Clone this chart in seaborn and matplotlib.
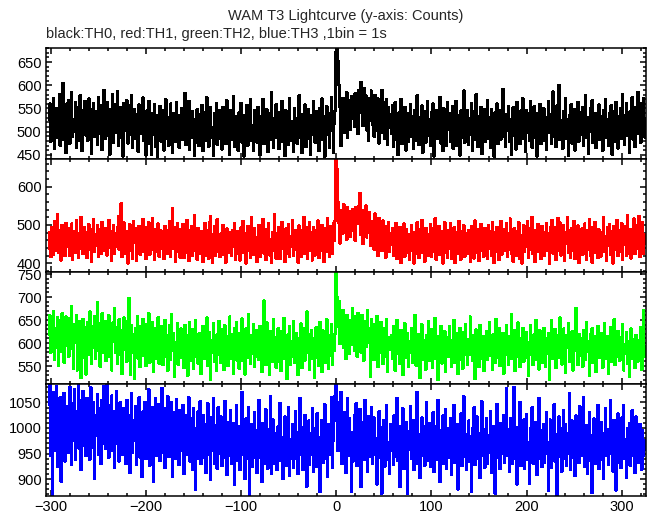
import numpy as np
import matplotlib
matplotlib.use("Agg")
import matplotlib.pyplot as plt
from matplotlib.ticker import MultipleLocator
import seaborn as sns

# ---------------- data (counts per 1 s bin) ----------------
T_START = -302  # time of the first bin (s)

th0_counts = [
    525, 560, 478, 541, 497, 572, 463, 530, 551, 488, 519, 580, 470, 545, 506, 605, 482, 538, 455, 560,
    512, 568, 474, 539, 585, 490, 527, 501, 563, 466, 534, 552, 480, 578, 509, 458, 546, 515, 566, 492,
    538, 481, 571, 503, 549, 452, 526, 562, 489, 544, 511, 472, 575, 520, 495, 556, 461, 537, 590, 484,
    507, 564, 491, 533, 450, 548, 513, 581, 476, 535, 559, 498, 586, 469, 524, 553, 486, 518, 447, 561,
    502, 540, 567, 475, 529, 556, 494, 579, 465, 521, 548, 484, 537, 508, 457, 558, 496, 547, 515, 573,
    481, 528, 449, 545, 499, 566, 473, 519, 451, 540, 493, 558, 467, 524, 446, 536, 490, 555, 479, 512,
    547, 460, 505, 569, 485, 531, 470, 518, 560, 494, 454, 539, 508, 478, 563, 500, 536, 466, 523, 492,
    551, 483, 514, 583, 471, 528, 498, 566, 462, 517, 486, 543, 495, 448, 527, 477, 548, 503, 469, 537,
    491, 557, 458, 515, 541, 480, 574, 499, 467, 524, 552, 487, 510, 449, 540, 494, 561, 472, 518, 546,
    485, 513, 462, 553, 500, 534, 474, 567, 493, 522, 451, 546, 483, 507, 577, 468, 533, 489, 516, 459,
    541, 497, 562, 477, 519, 447, 536, 503, 557, 470, 526, 492, 569, 481, 514, 459, 545, 498, 530, 476,
    553, 495, 450, 533, 508, 570, 473, 520, 488, 548, 456, 506, 539, 482, 584, 497, 465, 528, 502, 559,
    486, 517, 463, 542, 499, 565, 478, 525, 448, 546, 491, 532, 471, 572, 507, 480, 523, 457, 551, 496,
    529, 474, 510, 578, 487, 538, 455, 519, 501, 558, 467, 531, 485, 549, 508, 451, 535, 493, 566, 511,
    476, 543, 498, 527, 458, 550, 509, 571, 482, 532, 446, 520, 555, 494, 539, 465, 526, 574, 503, 455,
    518, 545, 672, 680, 652, 600, 553, 470, 539, 572, 497, 555, 520, 585, 486, 549, 568, 505, 576, 528,
    558, 511, 583, 526, 571, 495, 590, 541, 607, 560, 512, 594, 535, 578, 503, 562, 481, 572, 524, 588,
    516, 565, 490, 579, 534, 502, 571, 475, 556, 520, 589, 497, 563, 484, 538, 570, 471, 552, 509, 537,
    495, 557, 468, 524, 563, 482, 519, 450, 541, 501, 570, 473, 529, 490, 553, 460, 517, 540, 479, 526,
    559, 489, 532, 464, 508, 547, 481, 578, 512, 471, 530, 499, 556, 455, 521, 543, 477, 510, 566, 492,
    527, 469, 541, 497, 560, 447, 516, 546, 484, 533, 503, 574, 475, 522, 458, 550, 494, 531, 470, 563,
    505, 539, 478, 514, 555, 463, 527, 496, 566, 470, 536, 509, 449, 545, 487, 521, 588, 476, 518, 500,
    546, 472, 529, 494, 562, 459, 515, 543, 482, 580, 503, 468, 534, 507, 553, 452, 524, 489, 548, 478,
    517, 567, 485, 530, 466, 548, 498, 523, 446, 541, 495, 560, 473, 514, 547, 483, 528, 592, 490, 519,
    467, 537, 502, 555, 479, 526, 450, 513, 552, 491, 533, 462, 563, 500, 521, 474, 545, 506, 571, 484,
    524, 456, 547, 498, 539, 480, 566, 505, 465, 528, 554, 488, 517, 447, 540, 501, 559, 473, 520, 494,
    550, 481, 531, 461, 508, 565, 497, 538, 474, 519, 586, 490, 532, 468, 556, 510, 600, 482, 525, 503,
    463, 544, 509, 571, 485, 526, 448, 536, 496, 559, 475, 518, 549, 460, 530, 502, 564, 479, 521, 542,
    493, 553, 470, 516, 578, 487, 531, 453, 522, 551, 499, 567, 476, 508, 540, 466, 525, 497, 558, 482,
    534, 504, 459, 547, 515, 570, 486, 527, 469, 539, 495, 556, 451, 511, 543, 478, 563, 519, 464, 532,
    500, 551, 484, 580, 513, 472, 536, 561, 492, 527, 455, 544, 505, 574, 483, 531, 467, 553, 516, 585,
    496, 537, 476, 562, 510, 572, 488, 528,
]

th1_counts = [
    438, 481, 416, 495, 452, 423, 509, 464, 433, 527, 428, 487, 456, 408, 499, 445, 474, 420, 505, 461,
    442, 490, 419, 468, 503, 410, 461, 484, 427, 511, 450, 414, 479, 437, 520, 458, 425, 493, 446, 482,
    415, 470, 501, 436, 488, 404, 457, 515, 431, 476, 447, 498, 418, 489, 460, 424, 508, 451, 480, 433,
    492, 421, 466, 513, 440, 484, 407, 459, 500, 426, 477, 444, 494, 522, 435, 486, 556, 417, 463, 506,
    448, 425, 483, 400, 457, 502, 432, 478, 413, 510, 453, 491, 406, 469, 441, 497, 423, 482, 455, 514,
    430, 473, 411, 494, 451, 507, 422, 480, 436, 518, 459, 409, 488, 429, 467, 503, 417, 456, 485, 439,
    474, 412, 497, 449, 424, 486, 458, 510, 418, 479, 543, 437, 495, 405, 460, 504, 431, 471, 415, 489,
    446, 501, 414, 472, 428, 513, 455, 406, 485, 438, 496, 420, 465, 524, 432, 478, 410, 492, 450, 426,
    483, 443, 403, 468, 504, 421, 461, 487, 412, 507, 522, 475, 401, 439, 496, 419, 470, 515, 430, 457,
    416, 477, 440, 499, 423, 466, 402, 490, 448, 427, 481, 462, 419, 487, 442, 505, 410, 460, 484, 425,
    471, 408, 493, 447, 509, 427, 478, 400, 456, 497, 434, 483, 415, 519, 452, 422, 491, 441, 468, 403,
    459, 500, 418, 476, 436, 514, 426, 467, 409, 488, 447, 504, 421, 463, 401, 482, 433, 528, 450, 413,
    479, 430, 495, 411, 461, 508, 437, 474, 404, 490, 452, 424, 502, 416, 471, 444, 512, 420, 466, 485,
    435, 476, 402, 498, 455, 417, 486, 439, 520, 425, 468, 493, 411, 462, 506, 432, 480, 408, 494, 449,
    421, 487, 443, 511, 414, 472, 434, 500, 457, 403, 490, 429, 478, 518, 446, 418, 496, 452, 424, 505,
    460, 512, 690, 645, 560, 505, 452, 538, 516, 478, 553, 497, 530, 462, 546, 488, 535, 470, 521, 542,
    486, 528, 459, 547, 503, 531, 548, 582, 475, 520, 451, 539, 494, 550, 468, 515, 481, 533, 445, 509,
    470, 506, 436, 529, 461, 498, 420, 517, 452, 495, 433, 511, 448, 483, 414, 497, 455, 507, 430, 479,
    449, 491, 420, 477, 437, 505, 411, 466, 431, 494, 402, 472, 444, 503, 418, 463, 488, 428, 476, 409,
    458, 498, 432, 481, 400, 468, 424, 506, 443, 414, 488, 454, 513, 427, 470, 405, 492, 437, 475, 419,
    463, 501, 416, 450, 490, 429, 517, 410, 472, 435, 497, 422, 459, 484, 400, 456, 507, 428, 470, 415,
    486, 439, 503, 412, 468, 433, 494, 401, 457, 481, 425, 509, 445, 410, 483, 436, 499, 418, 464, 477,
    424, 485, 451, 404, 496, 440, 471, 413, 511, 447, 428, 489, 406, 461, 502, 433, 476, 417, 492, 443,
    470, 411, 500, 438, 484, 421, 508, 452, 401, 480, 430, 495, 446, 409, 469, 510, 423, 458, 488, 432,
    455, 503, 418, 478, 436, 516, 426, 469, 405, 491, 449, 420, 484, 438, 506, 412, 473, 400, 462, 499,
    429, 475, 444, 510, 415, 466, 490, 435, 521, 424, 470, 403, 487, 452, 501, 431, 481, 411, 497, 445,
    482, 419, 460, 505, 434, 477, 400, 493, 447, 513, 425, 468, 494, 410, 456, 518, 432, 506, 421, 474,
    439, 500, 406, 480, 451, 519, 428, 485, 415, 463, 492, 433, 510, 412, 471, 446, 498, 401, 479, 430,
    490, 422, 467, 503, 443, 409, 486, 435, 514, 419, 474, 402, 495, 450, 507, 427, 478, 414, 488, 453,
    417, 482, 440, 520, 429, 471, 408, 493, 447, 502, 423, 484, 455, 400, 497, 436, 476, 512, 420, 464,
    485, 431, 504, 410, 469, 448, 496, 421, 526, 452, 426, 489, 413, 477, 439, 516, 424, 481, 499, 437,
    523, 416, 490, 441, 507, 425, 476, 450,
]

th2_counts = [
    618, 660, 579, 642, 597, 668, 563, 631, 590, 655, 550, 624, 650, 582, 664, 606, 558, 637, 657, 595,
    628, 571, 653, 588, 679, 615, 545, 640, 601, 661, 541, 626, 583, 648, 524, 610, 652, 569, 634, 532,
    604, 645, 574, 668, 612, 556, 637, 591, 657, 566, 627, 688, 584, 643, 549, 618, 664, 578, 609, 647,
    562, 630, 596, 660, 571, 623, 541, 644, 603, 675, 580, 635, 556, 613, 651, 575, 628, 533, 600, 655,
    586, 625, 560, 647, 698, 598, 531, 639, 580, 619, 522, 632, 592, 658, 567, 611, 548, 637, 585, 652,
    572, 612, 550, 641, 589, 664, 558, 620, 576, 646, 537, 606, 633, 565, 597, 656, 555, 615, 578, 636,
    552, 603, 650, 570, 617, 540, 591, 638, 563, 662, 584, 622, 526, 601, 576, 643, 553, 612, 587, 631,
    568, 600, 546, 639, 582, 617, 529, 607, 646, 561, 594, 630, 544, 589, 650, 570, 610, 555, 621, 580,
    533, 601, 636, 565, 613, 586, 655, 551, 597, 624, 520, 578, 606, 642, 559, 594, 539, 618, 575, 648,
    583, 557, 629, 604, 542, 638, 572, 614, 550, 595, 657, 567, 620, 581, 534, 633, 588, 646, 562, 605,
    545, 621, 582, 653, 561, 603, 532, 631, 592, 568, 662, 589, 555, 617, 577, 640, 548, 598, 627, 570,
    609, 563, 636, 580, 538, 614, 692, 587, 552, 644, 573, 601, 531, 626, 585, 559, 651, 576, 613, 547,
    594, 632, 560, 606, 540, 625, 579, 654, 565, 593, 522, 618, 583, 637, 552, 604, 571, 648, 557, 598,
    622, 574, 531, 611, 585, 642, 547, 597, 633, 562, 602, 668, 580, 619, 543, 590, 628, 566, 610, 525,
    586, 634, 568, 613, 550, 646, 594, 538, 627, 577, 606, 557, 652, 591, 545, 617, 573, 640, 553, 600,
    583, 621, 760, 700, 635, 690, 598, 653, 612, 672, 590, 645, 565, 661, 604, 637, 576, 650, 596, 676,
    620, 584, 657, 629, 571, 665, 603, 642, 580, 660, 611, 562, 648, 618, 592, 672, 600, 633, 526, 652,
    602, 640, 563, 624, 585, 659, 548, 616, 579, 646, 593, 555, 632, 598, 571, 651, 538, 612, 586, 597,
    617, 566, 636, 590, 540, 609, 650, 576, 601, 555, 628, 583, 531, 613, 642, 568, 595, 622, 549, 604,
    578, 633, 558, 607, 585, 661, 551, 600, 571, 620, 524, 594, 640, 563, 605, 582, 543, 616, 574, 648,
    561, 597, 629, 547, 609, 580, 654, 566, 593, 520, 614, 577, 636, 556, 602, 572, 625, 538, 592, 613,
    570, 637, 590, 548, 606, 579, 650, 557, 596, 621, 534, 587, 632, 564, 603, 545, 623, 575, 641, 586,
    553, 608, 574, 657, 589, 561, 617, 598, 522, 629, 578, 604, 549, 638, 593, 567, 615, 539, 607, 581,
    626, 563, 597, 645, 572, 609, 543, 619, 587, 558, 652, 594, 569, 633, 551, 603, 579, 622, 533, 599,
    575, 638, 591, 554, 614, 578, 663, 565, 601, 628, 540, 592, 570, 644, 597, 549, 611, 582, 633, 560,
    608, 569, 624, 588, 530, 602, 639, 574, 596, 552, 618, 585, 649, 563, 604, 543, 627, 576, 599, 557,
    633, 586, 548, 611, 576, 622, 520, 597, 650, 566, 605, 580, 630, 546, 594, 616, 568, 655, 590, 554,
    601, 631, 575, 535, 617, 589, 642, 560, 598, 571, 625, 541, 608, 584, 675, 596, 553, 620, 572, 610,
    588, 549, 627, 593, 563, 646, 581, 603, 529, 619, 575, 632, 557, 598, 614, 537, 590, 637, 568, 606,
    579, 621, 546, 600, 642, 565, 592, 615, 534, 586, 634, 559, 604, 577, 651, 552, 598, 570, 626, 589,
    562, 612, 584, 640, 541, 597, 576, 623, 555, 603, 526, 591, 631, 566, 608, 581, 546, 617, 594, 560,
    605, 578, 634, 543, 600, 672, 571, 593,
]

th3_counts = [
    1045, 1085, 945, 1020, 870, 1070, 955, 1010, 1082, 925, 1035, 950, 1060, 895, 1022, 978, 1068, 935, 1042, 992,
    1028, 952, 1080, 1000, 928, 1048, 975, 1076, 938, 1033, 1005, 1085, 960, 1055, 918, 1020, 1072, 965, 1040, 945,
    1058, 982, 1030, 938, 1080, 1012, 962, 1050, 900, 1025, 985, 1066, 948, 1038, 1000, 930, 1055, 970, 1082, 1015,
    960, 1084, 1020, 942, 1045, 990, 1063, 955, 1032, 922, 1010, 1072, 970, 1026, 935, 1050, 980, 1018, 948, 1038,
    998, 930, 1055, 966, 1024, 912, 990, 1068, 952, 1015, 975, 1042, 928, 1020, 985, 1060, 942, 1005, 905, 1032,
    962, 1050, 940, 1008, 982, 1075, 926, 1018, 958, 1040, 895, 992, 1058, 946, 1026, 972, 1047, 936, 1000, 1078,
    952, 1015, 922, 1038, 980, 1062, 943, 1004, 965, 1050, 905, 990, 1030, 940, 1056, 970, 1012, 928, 1035, 955,
    992, 1044, 910, 1005, 948, 1025, 972, 1060, 935, 988, 1018, 918, 1038, 960, 880, 1000, 940, 1032, 962, 1052,
    930, 980, 1025, 942, 1008, 912, 968, 1048, 948, 990, 898, 1020, 955, 1058, 930, 982, 1005, 920, 1040, 950,
    975, 1022, 926, 998, 942, 1052, 962, 908, 1012, 946, 985, 1035, 930, 970, 1010, 890, 956, 1045, 936, 980,
    1004, 918, 972, 1070, 948, 992, 900, 1018, 940, 985, 1040, 870, 955, 1008, 924, 978, 1030, 942, 996, 912,
    968, 1055, 942, 988, 895, 1010, 930, 980, 1036, 952, 920, 998, 946, 1062, 910, 974, 1016, 930, 990, 955,
    918, 1003, 946, 1048, 936, 982, 900, 965, 1022, 926, 996, 950, 1040, 906, 978, 940, 1008, 922, 986, 1032,
    940, 992, 910, 968, 1058, 948, 1002, 918, 980, 1025, 934, 885, 972, 1014, 928, 990, 948, 1038, 915, 965,
    1000, 924, 1028, 944, 982, 875, 956, 1015, 932, 992, 1046, 940, 968, 905, 1008, 948, 985, 1060, 922, 975,
    1062, 1015, 1090, 1035, 955, 1050, 985, 1070, 930, 1008, 965, 1030, 912, 995, 1058, 945, 1018, 970, 875, 992,
    935, 1025, 978, 1048, 926, 1000, 952, 1036, 885, 975, 1012, 938, 1055, 958, 992, 915, 1022, 944, 985, 1040,
    930, 995, 1020, 948, 980, 890, 962, 1032, 942, 1002, 872, 952, 1015, 925, 988, 1045, 938, 972, 910, 1008,
    955, 996, 928, 1025, 944, 985, 1058, 936, 970, 885, 1004, 950, 1038, 920, 978, 1012, 932, 872, 994, 958,
    1042, 940, 976, 1015, 918, 998, 950, 1070, 930, 988, 902, 965, 1020, 945, 1003, 926, 982, 1050, 936, 970,
    1010, 924, 992, 950, 1030, 914, 975, 1004, 938, 1055, 960, 895, 996, 946, 1024, 930, 980, 1036, 920, 966,
    1000, 942, 1018, 908, 986, 955, 1045, 932, 976, 1008, 880, 952, 995, 1028, 926, 972, 1062, 944, 988, 918,
    962, 1014, 935, 984, 875, 950, 1000, 1040, 928, 968, 1022, 940, 990, 902, 978, 1052, 945, 998, 922, 970,
    1018, 930, 986, 952, 1032, 912, 974, 1004, 938, 872, 960, 1046, 942, 994, 920, 1010, 950, 984, 1025, 932,
    975, 1078, 945, 998, 915, 1018, 962, 930, 988, 1080, 940, 970, 890, 1002, 948, 1050, 926, 985, 955, 1016,
    920, 982, 1026, 938, 972, 892, 1000, 952, 1040, 930, 990, 946, 1012, 908, 974, 1058, 940, 996, 924, 968,
    1008, 932, 984, 1030, 950, 878, 972, 1016, 922, 994, 955, 1046, 935, 988, 870, 960, 1022, 944, 1000, 915,
    978, 1034, 940, 1008, 926, 990, 950, 1068, 918, 975, 1014, 942, 982, 906, 1024, 955, 996, 932, 1042, 962,
    945, 988, 1060, 925, 974, 1005, 910, 960, 1030, 936, 986, 873, 952, 1018, 930, 992, 948, 1044, 920, 980,
    1012, 938, 972, 900, 990, 1038, 945, 998, 928, 975, 1055, 950, 982, 915, 1015, 940, 878, 965, 1028, 932,
    988, 922, 1020, 955, 1045, 940, 978, 902, 1000, 950, 1010, 926, 990, 1034, 946, 972, 912, 1022, 950, 985,
    932, 1008, 962, 918, 996, 945, 975, 958,
]

series_names = ["TH0", "TH1", "TH2", "TH3"]
series_colors = ["#000000", "#ff0000", "#00ff00", "#0000ff"]
x_tick_labels = [-300, -200, -100, 0, 100, 200, 300]
title_text = "WAM T3 Lightcurve (y-axis: Counts)"
subtitle_text = "black:TH0, red:TH1, green:TH2, blue:TH3 ,1bin = 1s"

# ---------------- styling ----------------
sns.set_style("white")
plt.rcParams["font.family"] = ["Liberation Sans", "DejaVu Sans"]
plt.rcParams["axes.unicode_minus"] = True

W, H = 652, 515
fig = plt.figure(figsize=(W / 100, H / 100), dpi=100)

left_px, right_px = 45.7, 646.0
panel_px = [(47.7, 159.0), (159.0, 271.7), (271.7, 384.0), (384.0, 496.0)]
ylims = [(441, 681), (378, 672), (511, 755), (867, 1086)]
ymajor = [50, 100, 50, 50]
yminor = [10, 20, 10, 10]
xlim = (-305.3, 325.5)

all_counts = [th0_counts, th1_counts, th2_counts, th3_counts]

for i, (counts, name, col) in enumerate(zip(all_counts, series_names, series_colors)):
    top, bot = panel_px[i]
    ax = fig.add_axes([left_px / W, 1 - bot / H, (right_px - left_px) / W, (bot - top) / H])
    t = np.arange(T_START, T_START + len(counts))
    sns.lineplot(x=t, y=np.asarray(counts), ax=ax, color=col, linewidth=1.2,
                 drawstyle="steps-mid", estimator=None, legend=False, antialiased=False)
    ax.set_xlim(*xlim)
    ax.set_ylim(*ylims[i])
    ax.set_xlabel("")
    ax.set_ylabel("")
    ax.xaxis.set_major_locator(MultipleLocator(100))
    ax.xaxis.set_minor_locator(MultipleLocator(20))
    ax.yaxis.set_major_locator(MultipleLocator(ymajor[i]))
    ax.yaxis.set_minor_locator(MultipleLocator(yminor[i]))
    ax.tick_params(which="both", direction="in", top=True, right=True, bottom=True, left=True,
                   width=1.1, colors="black")
    ax.tick_params(which="major", length=4.5, labelsize=10.5, pad=3)
    ax.tick_params(which="minor", length=2.2)
    for s in ax.spines.values():
        s.set_linewidth(1.1)
        s.set_color("black")
    if i < 3:
        ax.tick_params(axis="x", labelbottom=False)
    else:
        ax.set_xticks(x_tick_labels)
    ax.grid(False)

fig.text((left_px + right_px) / 2 / W, 1 - 16 / H, title_text, ha="center", va="center", fontsize=10.5)
fig.text(46 / W, 1 - 34 / H, subtitle_text, ha="left", va="center", fontsize=10.5)

fig.savefig("out.png", dpi=100)
